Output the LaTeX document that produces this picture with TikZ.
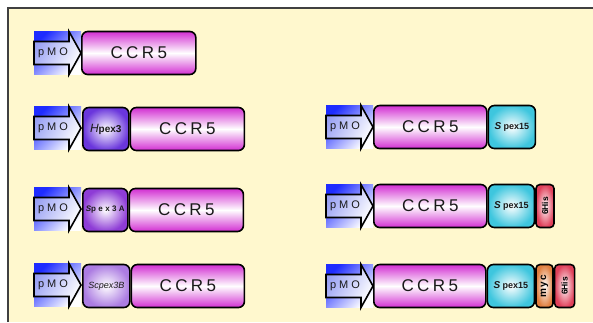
\documentclass[tikz,border=0pt]{standalone}
\usepackage{fontspec}
\setmainfont{Liberation Sans}
\usetikzlibrary{shadings}
\definecolor{bg}{HTML}{FFF8CE}
\definecolor{mag}{HTML}{D22ED2}
\definecolor{pblue}{HTML}{1E2CFF}
\definecolor{pbluel}{HTML}{98A0F4}
\definecolor{hpur}{HTML}{6A36DC}
\definecolor{spur}{HTML}{8E3CD6}
\definecolor{lpur}{HTML}{AC7CE2}
\definecolor{cyn}{HTML}{3EC6DE}
\definecolor{rd}{HTML}{E0405A}
\definecolor{org}{HTML}{E07E3E}
\tikzset{
  gbox/.style={draw=black, line width=1.6pt, rounded corners=6pt, minimum height=43pt,
    inner sep=0pt, anchor=west, text=black!90},
  ccr/.style={gbox, top color=mag, bottom color=mag, middle color=white, minimum width=#1,
    font=\fontsize{17}{17}\selectfont\addfontfeature{LetterSpace=20}},
  ccr/.default=114pt,
  radbox/.style 2 args={gbox, inner color=white, outer color=#1, minimum width=#2},
  smalltag/.style={font=\fontsize{9}{9}\selectfont\bfseries},
  vtag/.style={rotate=90, font=\fontsize{8.5}{8.5}\selectfont\bfseries},
  pmotext/.style={font=\fontsize{11}{11}\selectfont\addfontfeature{LetterSpace=28}, text=black!90, inner sep=0pt},
}
\newcommand\pmoarrow[3]{%
  \shade[top color=pblue, bottom color=white, shading angle=45] (#2,#3-21.5) rectangle (#2+47,#3+21.5);
  \draw[line width=1.6pt, line join=miter, top color=pbluel, bottom color=white, shading angle=60]
    (#2,#3-11.5) -- (#2+35,#3-11.5) -- (#2+35,#3-21.5) -- (#2+47,#3) -- (#2+35,#3+21.5)
    -- (#2+35,#3+11.5) -- (#2,#3+11.5) -- cycle;
  \node[pmotext] (#1) at (#2+19,#3) {pMO};
}
\begin{document}
\begin{tikzpicture}[x=1pt,y=-1pt]
\useasboundingbox (0,0) rectangle (593,322);
\fill[bg] (8,8) rectangle (593,322);
\draw[line width=1.5pt, black!75] (8,322) -- (8,8) -- (593,8);

% row 1
\pmoarrow{p1}{34}{53}
\node[ccr] (c1) at (81,53) {CCR5};

% row 2 left
\pmoarrow{p2}{34}{128}
\node[radbox={hpur}{46pt}, font=\fontsize{10}{10}\selectfont\bfseries] (h2) at (82,129) {{\mdseries\itshape\fontsize{12}{12}\selectfont H}pex3};
\node[ccr] (c2) at (h2.east) {CCR5};

% row 3 left
\pmoarrow{p3}{34}{209}
\node[radbox={spur}{45pt}, font=\fontsize{8}{8}\selectfont\bfseries\addfontfeature{LetterSpace=30}] (s3) at (82,210) {{\itshape S}pex3A};
\node[ccr] (c3) at (s3.east) {CCR5};

% row 4 left
\pmoarrow{p4}{34}{285}
\node[radbox={lpur}{47pt}, font=\fontsize{9}{9}\selectfont\itshape] (s4) at (82,286) {Scpex3B};
\node[ccr=113pt] (c4) at (s4.east) {CCR5};

% row 2 right
\pmoarrow{q2}{326}{127}
\node[ccr=113pt] (d2) at (373,127) {CCR5};
\node[radbox={cyn}{47pt}, smalltag] (e2) at (d2.east) {{\itshape\fontsize{10}{10}\selectfont S} pex15};

% row 3 right
\pmoarrow{q3}{326}{206}
\node[ccr=113pt] (d3) at (373,206) {CCR5};
\node[radbox={cyn}{46pt}, smalltag] (e3) at (d3.east) {{\itshape\fontsize{10}{10}\selectfont S} pex15};
\node[radbox={rd}{18pt}, rounded corners=4pt] (f3) at (e3.east) {};
\node[vtag] (g3) at (f3.center) {6His};

% row 4 right
\pmoarrow{q4}{326}{286}
\node[ccr=112pt] (d4) at (373,286) {CCR5};
\node[radbox={cyn}{47pt}, smalltag] (e4) at (d4.east) {{\itshape\fontsize{10}{10}\selectfont S} pex15};
\node[radbox={org}{17pt}, rounded corners=4pt] (m4) at (e4.east) {};
\node[vtag, font=\fontsize{10}{10}\selectfont\bfseries\addfontfeature{LetterSpace=12}] (n4) at (m4.center) {myc};
\node[radbox={rd}{20pt}, rounded corners=4pt] (f4) at (m4.east) {};
\node[vtag] (g4) at (f4.center) {6His};
\end{tikzpicture}
\end{document}
